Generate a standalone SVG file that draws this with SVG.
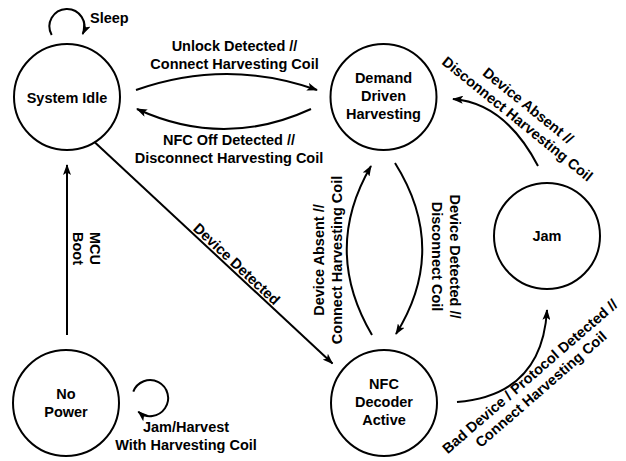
<svg xmlns="http://www.w3.org/2000/svg" width="626" height="461" viewBox="0 0 626 461">
<style>
.n{fill:#fff;stroke:#000;stroke-width:2}
.c{fill:none;stroke:#000;stroke-width:2;marker-end:url(#ah)}
text{font-family:"Liberation Sans",Arial,Helvetica,sans-serif;font-weight:bold;font-size:14.5px;fill:#000}
.m{text-anchor:middle}
</style>
<defs>
<marker id="ah" viewBox="0 0 11 8" markerWidth="11" markerHeight="8" refX="10" refY="4" orient="auto" markerUnits="userSpaceOnUse">
<path d="M0,0 L11,4 L0,8 L2.5,4 z" fill="#000"/>
</marker>
</defs>
<rect width="626" height="461" fill="#fff"/>
<g id="connectors">
<path class="c" d="M51.7,35 A17.5,17.5 0 1 1 82.7,34"/>
<path class="c" d="M136,90 Q227,58 317,90"/>
<path class="c" d="M311,109 Q224,149 137,109"/>
<path class="c" d="M95,142.5 L332.5,363.5"/>
<path class="c" d="M372,335 Q322,250 371,166"/>
<path class="c" d="M395,163 Q449,249 396,334"/>
<path class="c" d="M538,166 Q505,103 453,99"/>
<path class="c" d="M457,402 Q542,395 547,310"/>
<path class="c" d="M67,335 L67,165"/>
<path class="c" d="M133.3,391.7 A18,18 0 1 1 138.3,411.7"/>
<text x="90" y="23">Sleep</text>
<text class="m" x="234.5" y="51">Unlock Detected //<tspan x="234.5" y="69">Connect Harvesting Coil</tspan></text>
<text class="m" x="229" y="145">NFC Off Detected //<tspan x="229" y="163">Disconnect Harvesting Coil</tspan></text>
<text class="m" transform="translate(233.2,267.6) rotate(43)">Device Detected</text>
<text class="m" transform="translate(324.2,260) rotate(-90)">Device Absent //<tspan x="0" y="18">Connect Harvesting Coil</tspan></text>
<text class="m" transform="translate(449.8,256.5) rotate(90)">Device Detected //<tspan x="0" y="17.5">Disconnect Coil</tspan></text>
<text class="m" transform="translate(525,109.5) rotate(39)">Device Absent //<tspan x="0" y="17">Disconnect Harvesting Coil</tspan></text>
<text class="m" transform="translate(533.1,380.2) rotate(-41)">Bad Device / Protocol Detected //<tspan x="0" y="17">Connect Harvesting Coil</tspan></text>
<text class="m" transform="translate(90.1,248.5) rotate(90)">MCU<tspan x="0" y="17">Boot</tspan></text>
<text class="m" x="186" y="432">Jam/Harvest<tspan x="186" y="449.5">With Harvesting Coil</tspan></text>
</g>
<g id="system-idle">
<circle class="n" cx="67" cy="97" r="53"/>
<text class="m" x="67" y="103">System Idle</text>
</g>
<g id="demand-driven-harvesting">
<circle class="n" cx="383.5" cy="97" r="53"/>
<text class="m" x="383.5" y="83">Demand<tspan x="383.5" y="101">Driven</tspan><tspan x="383.5" y="119">Harvesting</tspan></text>
</g>
<g id="jam">
<circle class="n" cx="547" cy="236" r="53"/>
<text class="m" x="547" y="241">Jam</text>
</g>
<g id="nfc-decoder-active">
<circle class="n" cx="384" cy="403" r="53"/>
<text class="m" x="384" y="389">NFC<tspan x="384" y="407">Decoder</tspan><tspan x="384" y="425">Active</tspan></text>
</g>
<g id="no-power">
<circle class="n" cx="66" cy="403" r="53"/>
<text class="m" x="66" y="399">No<tspan x="66" y="417">Power</tspan></text>
</g>
</svg>
